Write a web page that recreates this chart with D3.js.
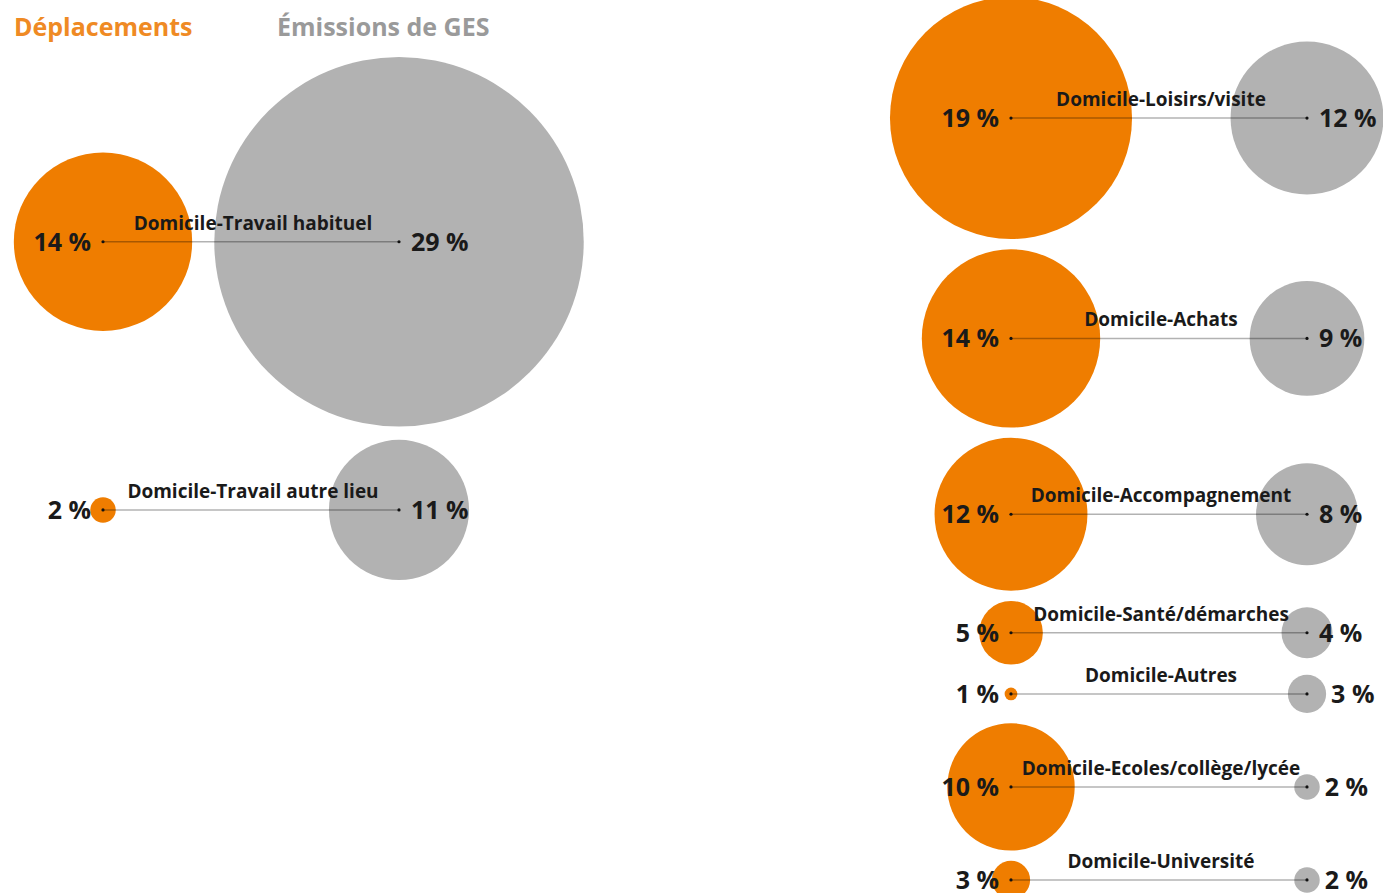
<!DOCTYPE html>
<html><head><meta charset="utf-8">
<script src="https://cdn.jsdelivr.net/npm/d3@7"></script>
<style>
html,body{margin:0;padding:0;background:#fff;overflow:hidden}
svg{display:block;font-family:"Open Sans",sans-serif}
</style></head>
<body>
<svg id="chart" width="1383" height="893"></svg>
<script>
// ---- data ----
const categories = ["Domicile-Travail habituel","Domicile-Travail autre lieu","Domicile-Loisirs/visite","Domicile-Achats","Domicile-Accompagnement","Domicile-Santé/démarches","Domicile-Autres","Domicile-Ecoles/collège/lycée","Domicile-Université"];
const panels = ["gauche","gauche","droite","droite","droite","droite","droite","droite","droite"];
const deplacements = [14, 2, 19, 14, 12, 5, 1, 10, 3];
const emissions = [29, 11, 12, 9, 8, 4, 3, 2, 2];
const seriesNames = ["Déplacements", "Émissions de GES"];

// ---- styles / layout ----
const orange = "#EF7D00", gray = "#B2B2B2";
const svg = d3.select("#chart");

const rScale = d3.scaleLinear().domain([0, 30]).range([0, 191.1]);
const panelX = d3.scaleOrdinal().domain(["gauche", "droite"]).range([103, 1011]);
const pairX = d3.scaleLinear().domain([0, 1]).range([0, 296]);
// vertical extent each panel's stack of rows is fitted into
const panelExtent = {gauche: [57, 580], droite: [-3, 899]};

const rows = categories.map((c, i) => ({
  cat: c, panel: panels[i], dep: deplacements[i], ges: emissions[i],
  rMax: Math.max(rScale(deplacements[i]), rScale(emissions[i]))
}));
// stack rows vertically within each panel, spreading the gaps evenly
["gauche", "droite"].forEach(p => {
  const pr = rows.filter(d => d.panel === p);
  const [top, bottom] = panelExtent[p];
  const sumD = d3.sum(pr, d => 2 * d.rMax);
  const gap = (bottom - top - sumD) / Math.max(1, pr.length - 1);
  let cursor = top;
  pr.forEach(d => { d.y = cursor + d.rMax; cursor += 2 * d.rMax + gap; });
});
rows.forEach(d => {
  d.x0 = panelX(d.panel) + pairX(0);
  d.x1 = panelX(d.panel) + pairX(1);
});

const g = svg.append("g");
const row = g.selectAll("g.row").data(rows).join("g").attr("class", "row");

row.append("circle").attr("cx", d => d.x0).attr("cy", d => d.y)
  .attr("r", d => rScale(d.dep)).attr("fill", orange);
row.append("circle").attr("cx", d => d.x1).attr("cy", d => d.y)
  .attr("r", d => rScale(d.ges)).attr("fill", gray);

row.append("line").attr("x1", d => d.x0).attr("x2", d => d.x1)
  .attr("y1", d => d.y).attr("y2", d => d.y)
  .attr("stroke", "rgba(0,0,0,0.3)").attr("stroke-width", 1.5);
row.append("circle").attr("cx", d => d.x0).attr("cy", d => d.y).attr("r", 1.6).attr("fill", "#111");
row.append("circle").attr("cx", d => d.x1).attr("cy", d => d.y).attr("r", 1.6).attr("fill", "#111");

row.append("text").attr("x", d => (d.x0 + d.x1) / 2 + 2).attr("y", d => d.y - 12)
  .attr("text-anchor", "middle").attr("font-size", 19).attr("font-weight", 700)
  .attr("fill", "#1a1a1a").text(d => d.cat);

row.append("text").attr("x", d => d.x0 - 12).attr("y", d => d.y + 9)
  .attr("text-anchor", "end").attr("font-size", 25).attr("font-weight", 700)
  .attr("fill", "#1a1a1a").text(d => d.dep + " %");
row.append("text").attr("x", d => {
    const r = rScale(d.ges);
    return d.x1 + (r < 22 ? r + 5 : 12);
  }).attr("y", d => d.y + 9)
  .attr("text-anchor", "start").attr("font-size", 25).attr("font-weight", 700)
  .attr("fill", "#1a1a1a").text(d => d.ges + " %");

// legend
const legendX = d3.scalePoint().domain(seriesNames).range([14, 277]);
svg.append("g").selectAll("text").data(seriesNames).join("text")
  .attr("x", d => legendX(d)).attr("y", 36)
  .attr("font-size", 25).attr("font-weight", 700)
  .attr("fill", (d, i) => i === 0 ? "#EF8A24" : "#9a9a9a")
  .text(d => d);
</script>
</body></html>
